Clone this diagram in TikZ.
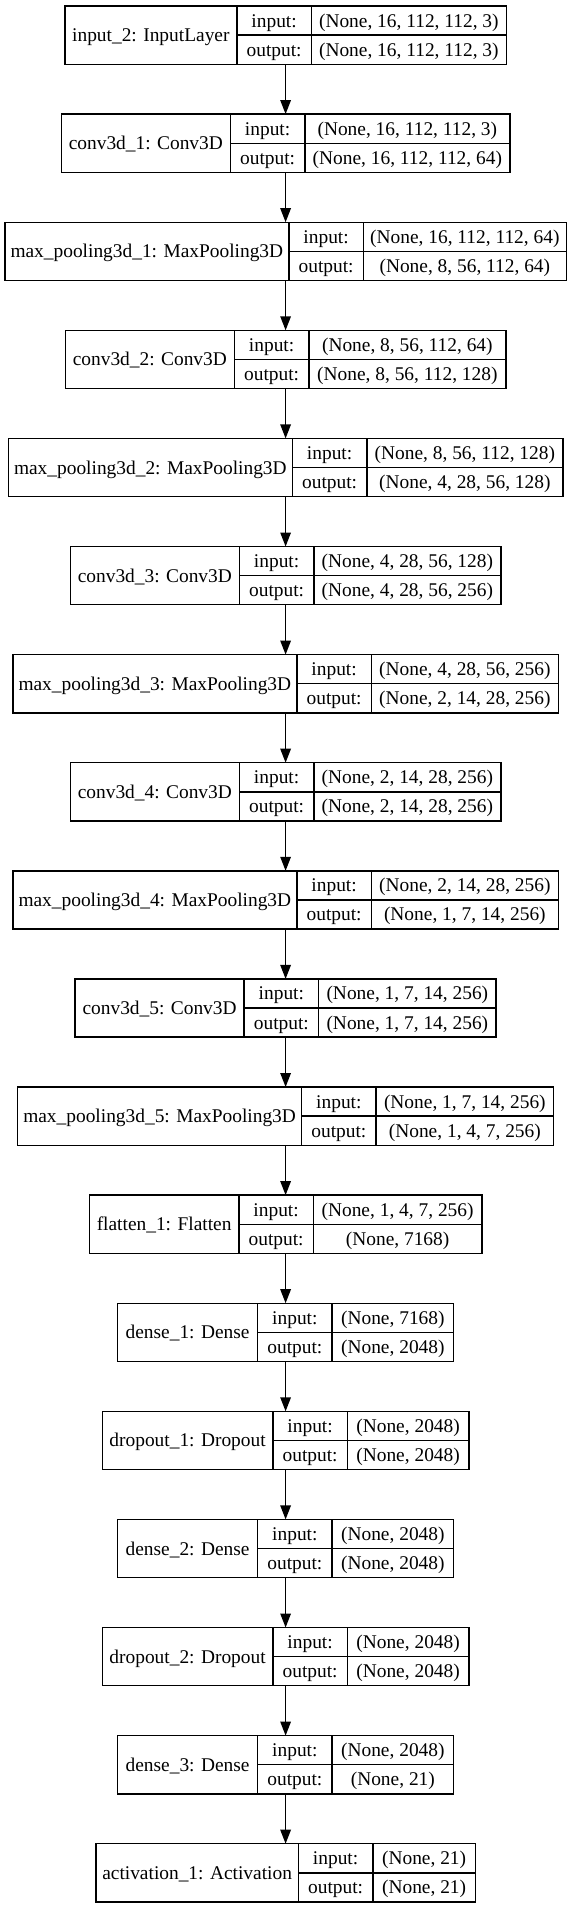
\documentclass[tikz,border=0pt]{standalone}
\usepackage{fontspec}
\setmainfont{Liberation Serif}
\usetikzlibrary{arrows.meta}

\begin{document}
\begin{tikzpicture}[x=1pt,y=-1pt,
    font=\fontsize{19.4}{23}\selectfont,
    line width=1.4pt,
    cell/.style={inner sep=0pt,outer sep=0pt,text height=15pt,text depth=2pt,minimum height=29.1pt},
    namecell/.style={cell,minimum height=58.2pt},
    layerbox/.style={draw,inner sep=0pt,outer sep=0pt,minimum height=58.2pt},
    flow/.style={-{Triangle[length=14pt,width=10.5pt]}}]
    \useasboundingbox (0,0) rectangle (571,1907);

    % Layers:
    % id / label / width of the label column / width of the shape column / input shape / output shape
    % The middle column (input: / output:) is always 74.5 wide, every record is centred on x = 285.6
    \foreach \id/\name/\N/\S/\shin/\shout [count=\k from 0] in {
        input2/{input\_2: InputLayer}/172/195/{(None, 16, 112, 112, 3)}/{(None, 16, 112, 112, 3)},
        conv1/{conv3d\_1: Conv3D}/169/205/{(None, 16, 112, 112, 3)}/{(None, 16, 112, 112, 64)},
        pool1/{max\_pooling3d\_1: MaxPooling3D}/284/203/{(None, 16, 112, 112, 64)}/{(None, 8, 56, 112, 64)},
        conv2/{conv3d\_2: Conv3D}/169/197/{(None, 8, 56, 112, 64)}/{(None, 8, 56, 112, 128)},
        pool2/{max\_pooling3d\_2: MaxPooling3D}/284/196/{(None, 8, 56, 112, 128)}/{(None, 4, 28, 56, 128)},
        conv3/{conv3d\_3: Conv3D}/169/187/{(None, 4, 28, 56, 128)}/{(None, 4, 28, 56, 256)},
        pool3/{max\_pooling3d\_3: MaxPooling3D}/284/187/{(None, 4, 28, 56, 256)}/{(None, 2, 14, 28, 256)},
        conv4/{conv3d\_4: Conv3D}/169/187/{(None, 2, 14, 28, 256)}/{(None, 2, 14, 28, 256)},
        pool4/{max\_pooling3d\_4: MaxPooling3D}/284/187/{(None, 2, 14, 28, 256)}/{(None, 1, 7, 14, 256)},
        conv5/{conv3d\_5: Conv3D}/169/177.5/{(None, 1, 7, 14, 256)}/{(None, 1, 7, 14, 256)},
        pool5/{max\_pooling3d\_5: MaxPooling3D}/284/177.5/{(None, 1, 7, 14, 256)}/{(None, 1, 4, 7, 256)},
        flat1/{flatten\_1: Flatten}/149.5/168.5/{(None, 1, 4, 7, 256)}/{(None, 7168)},
        dense1/{dense\_1: Dense}/140/121.5/{(None, 7168)}/{(None, 2048)},
        drop1/{dropout\_1: Dropout}/170.5/121.5/{(None, 2048)}/{(None, 2048)},
        dense2/{dense\_2: Dense}/140/121.5/{(None, 2048)}/{(None, 2048)},
        drop2/{dropout\_2: Dropout}/170.5/121.5/{(None, 2048)}/{(None, 2048)},
        dense3/{dense\_3: Dense}/140/121.5/{(None, 2048)}/{(None, 21)},
        act1/{activation\_1: Activation}/202.5/102.5/{(None, 21)}/{(None, 21)}}
    {
        \pgfmathsetmacro\W{\N+74.5+\S}
        \pgfmathsetmacro\L{285.6-\W/2}
        \pgfmathsetmacro\T{6+108.1*\k}
        % The whole record: its border, and the ends of the arrows
        \node[layerbox,minimum width=\W pt] (\id) at (285.6,{\T+29.1}) {};
        % Label column
        \node[namecell,minimum width=\N pt] (\id-name) at ({\L+\N/2},{\T+29.1}) {\name};
        % input: / output:
        \node[cell,minimum width=74.5pt] (\id-in) at ({\L+\N+37.25},{\T+14.55}) {input:};
        \node[cell,minimum width=74.5pt] (\id-out) at ({\L+\N+37.25},{\T+43.65}) {output:};
        % Shapes
        \node[cell,minimum width=\S pt] (\id-inshape) at ({\L+\N+74.5+\S/2},{\T+14.55}) {\shin};
        \node[cell,minimum width=\S pt] (\id-outshape) at ({\L+\N+74.5+\S/2},{\T+43.65}) {\shout};
        % Dividers between the fields
        \draw (\id-in.north west) -- (\id-out.south west);
        \draw (\id-in.north east) -- (\id-out.south east);
        \draw (\id-in.south west) -- (\id-inshape.south east);
    }

    % Arrows from each layer to the next one
    \foreach \a/\b in {input2/conv1,conv1/pool1,pool1/conv2,conv2/pool2,pool2/conv3,conv3/pool3,
        pool3/conv4,conv4/pool4,pool4/conv5,conv5/pool5,pool5/flat1,flat1/dense1,
        dense1/drop1,drop1/dense2,dense2/drop2,drop2/dense3,dense3/act1}
        \draw[flow] (\a) -- (\b);
\end{tikzpicture}
\end{document}
